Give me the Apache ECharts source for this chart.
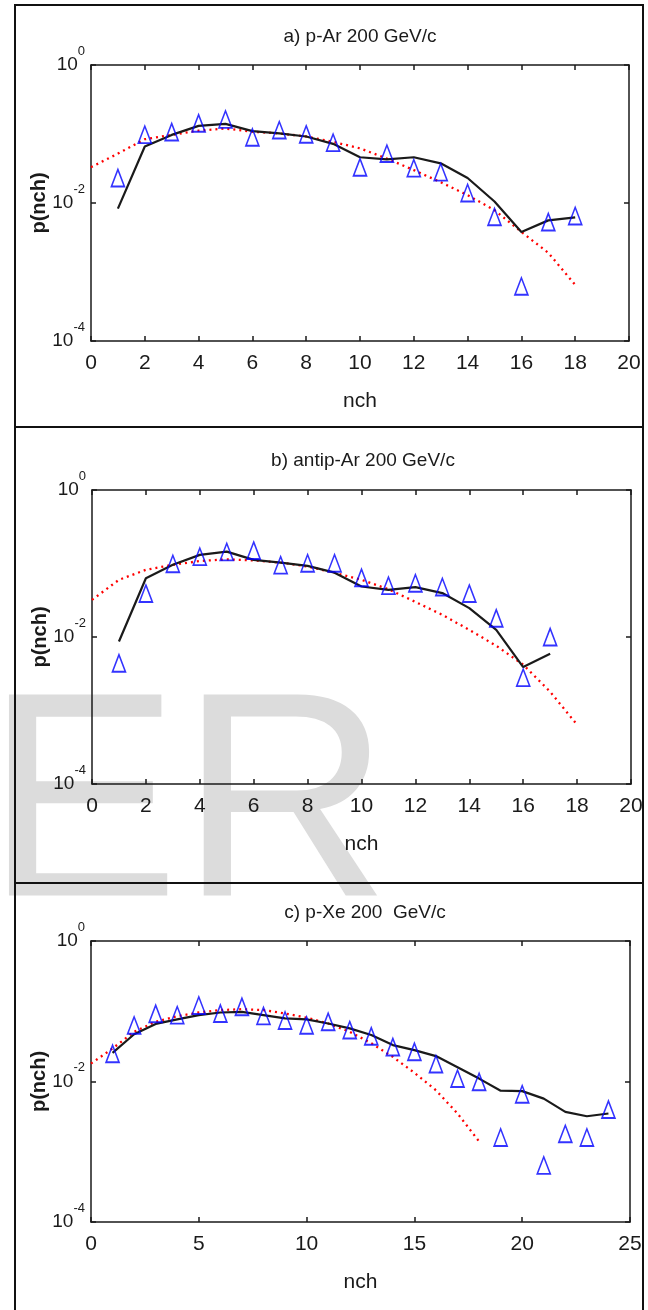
<!DOCTYPE html>
<html>
<head>
<meta charset="utf-8">
<script src="https://cdn.jsdelivr.net/npm/echarts@6/dist/echarts.min.js"></script>
<style>
  html, body { margin: 0; padding: 0; background: #fff; }
  #main { width: 648px; height: 1310px; }
</style>
</head>
<body>
<div id="main"></div>
<script>
// panel a) p-Ar 200 GeV/c
var nchA = [1, 2, 3, 4, 5, 6, 7, 8, 9, 10, 11, 12, 13, 14, 15, 16, 17, 18];
var expA = [0.023, 0.098, 0.107, 0.143, 0.163, 0.0895, 0.114, 0.099, 0.075, 0.033, 0.052, 0.032, 0.028, 0.014, 0.0063, 0.00062, 0.0053, 0.0065];
var fitA = [0.0083, 0.066, 0.097, 0.131, 0.14, 0.11, 0.102, 0.092, 0.072, 0.046, 0.043, 0.046, 0.0376, 0.023, 0.0105, 0.0038, 0.0056, 0.0062];
var nbdXA = [0, 1, 2, 3, 4, 5, 6, 7, 8, 9, 10, 11, 12, 13, 14, 15, 16, 17, 18];
var nbdA = [0.033, 0.052, 0.084, 0.097, 0.112, 0.12, 0.108, 0.102, 0.092, 0.077, 0.062, 0.044, 0.030, 0.020, 0.013, 0.0079, 0.0038, 0.0019, 0.00065];

// panel b) antip-Ar 200 GeV/c
var nchB = [1, 2, 3, 4, 5, 6, 7, 8, 9, 10, 11, 12, 13, 14, 15, 16, 17];
var expB = [0.0044, 0.039, 0.099, 0.124, 0.144, 0.150, 0.095, 0.101, 0.101, 0.064, 0.050, 0.054, 0.048, 0.039, 0.018, 0.0028, 0.010];
var fitB = [0.0087, 0.063, 0.096, 0.131, 0.145, 0.112, 0.103, 0.093, 0.075, 0.0486, 0.0437, 0.0476, 0.0396, 0.0247, 0.0125, 0.0039, 0.0059];
var nbdXB = [0, 1, 2, 3, 4, 5, 6, 7, 8, 9, 10, 11, 12, 13, 14, 15, 16, 17, 18];
var nbdB = [0.032, 0.060, 0.082, 0.096, 0.108, 0.114, 0.110, 0.103, 0.091, 0.075, 0.060, 0.0447, 0.030, 0.020, 0.0125, 0.0076, 0.0042, 0.0018, 0.00064];

// panel c) p-Xe 200 GeV/c
var nchC = [1, 2, 3, 4, 5, 6, 7, 8, 9, 10, 11, 12, 13, 14, 15, 16, 17, 18, 19, 20, 21, 22, 23, 24];
var expC = [0.0248, 0.063, 0.092, 0.088, 0.121, 0.093, 0.116, 0.086, 0.074, 0.063, 0.071, 0.054, 0.044, 0.031, 0.0265, 0.0177, 0.011, 0.0099, 0.0016, 0.0066, 0.00064, 0.0018, 0.0016, 0.0040];
var fitC = [0.0256, 0.047, 0.066, 0.0765, 0.088, 0.096, 0.098, 0.088, 0.079, 0.0765, 0.067, 0.057, 0.046, 0.033, 0.028, 0.023, 0.016, 0.011, 0.0074, 0.0073, 0.0057, 0.0037, 0.0032, 0.0035];
var nbdXC = [0, 1, 2, 3, 4, 5, 6, 7, 8, 9, 10, 11, 12, 13, 14, 15, 16, 17, 18];
var nbdC = [0.018, 0.0295, 0.051, 0.071, 0.085, 0.096, 0.104, 0.107, 0.104, 0.093, 0.081, 0.067, 0.051, 0.035, 0.0224, 0.0133, 0.0075, 0.0035, 0.0014];

var titles = ['a) p-Ar 200 GeV/c', 'b) antip-Ar 200 GeV/c', 'c) p-Xe 200  GeV/c'];
var xMax = [20, 20, 25];
var xStep = [2, 2, 5];

var font = "'Liberation Sans', Arial, sans-serif";
var ink = '#1a1a1a';

function pairs(xs, ys) {
    return xs.map(function (x, i) { return [x, ys[i]]; });
}

var grids = [
    { left: 91, top: 65, width: 538, height: 276 },
    { left: 92, top: 490, width: 539, height: 294 },
    { left: 91, top: 941, width: 539, height: 281 }
];

var xAxes = [], yAxes = [], series = [];
var panels = [
    [nchA, expA, fitA, nbdXA, nbdA],
    [nchB, expB, fitB, nbdXB, nbdB],
    [nchC, expC, fitC, nbdXC, nbdC]
];

grids.forEach(function (g, i) {
    var lineSt = { color: ink, width: 1.5 };
    xAxes.push({
        gridIndex: i, type: 'value', min: 0, max: xMax[i], interval: xStep[i],
        name: 'nch', nameLocation: 'middle', nameGap: 50, nameMoveOverlap: false,
        nameTextStyle: { fontFamily: font, fontSize: 21, color: ink },
        axisLine: { onZero: false, lineStyle: lineSt },
        axisTick: { inside: true, length: 5, lineStyle: lineSt },
        axisLabel: { fontFamily: font, fontSize: 21, color: ink, margin: 12 },
        splitLine: { show: false }
    });
    xAxes.push({
        gridIndex: i, type: 'value', position: 'top', min: 0, max: xMax[i], interval: xStep[i],
        axisLine: { onZero: false, lineStyle: lineSt },
        axisTick: { inside: true, length: 5, lineStyle: lineSt },
        axisLabel: { show: false }, splitLine: { show: false }
    });
    yAxes.push({
        gridIndex: i, type: 'log', logBase: 10, min: 0.0001, max: 1, interval: 2,
        name: 'p(nch)', nameLocation: 'middle', nameGap: 42, nameMoveOverlap: false,
        nameTextStyle: { fontFamily: font, fontWeight: 'bold', fontSize: 20, color: ink },
        axisLine: { onZero: false, lineStyle: lineSt },
        axisTick: { inside: true, length: 5, lineStyle: lineSt },
        axisLabel: {
            margin: 6,
            formatter: function (v) {
                var e = Math.round(Math.log10(v));
                return '{b|10}{s|' + e + '}';
            },
            rich: {
                b: { fontFamily: font, fontSize: 19, color: ink, lineHeight: 22 },
                s: { fontFamily: font, fontSize: 13, color: ink, padding: [0, 0, 28, 0] }
            }
        },
        minorTick: { show: false },
        splitLine: { show: false }
    });
    yAxes.push({
        gridIndex: i, type: 'log', logBase: 10, position: 'right', min: 0.0001, max: 1, interval: 2,
        axisLine: { onZero: false, lineStyle: lineSt },
        axisTick: { inside: true, length: 5, lineStyle: lineSt },
        axisLabel: { show: false }, splitLine: { show: false }
    });

    var p = panels[i];
    series.push({
        type: 'line', xAxisIndex: 2 * i, yAxisIndex: 2 * i,
        data: pairs(p[3], p[4]), symbol: 'none', z: 2,
        lineStyle: { color: '#ff0000', width: 2.3, type: [2, 4] }
    });
    series.push({
        type: 'line', xAxisIndex: 2 * i, yAxisIndex: 2 * i,
        data: pairs(p[0], p[2]), symbol: 'none', z: 3,
        lineStyle: { color: ink, width: 2.2 }
    });
    series.push({
        type: 'scatter', xAxisIndex: 2 * i, yAxisIndex: 2 * i,
        data: pairs(p[0], p[1]), symbol: 'triangle', symbolSize: [13, 17], z: 4,
        itemStyle: { color: 'rgba(0,0,0,0)', borderColor: '#0000ff', borderWidth: 1.7 }
    });
});

var chart = echarts.init(document.getElementById('main'));
chart.setOption({
    backgroundColor: '#fff',
    animation: false,
    title: [
        { text: titles[0], left: 355, top: 22, textAlign: 'center' },
        { text: titles[1], left: 358, top: 446, textAlign: 'center' },
        { text: titles[2], left: 360, top: 898, textAlign: 'center' }
    ].map(function (t) {
        t.textStyle = { fontFamily: font, fontSize: 19, fontWeight: 'normal', color: ink };
        return t;
    }),
    grid: grids,
    xAxis: xAxes,
    yAxis: yAxes,
    series: series,
    graphic: [
        {
            type: 'text', x: -15, y: 815, z: -10, silent: true,
            style: { text: 'ER', font: '292px "Liberation Sans", Arial, sans-serif', fill: '#dcdcdc', verticalAlign: 'middle' }
        },
        { type: 'rect', z: 50, shape: { x: 15, y: 5, width: 628, height: 422 }, style: { fill: 'none', stroke: '#111', lineWidth: 2 } },
        { type: 'rect', z: 50, shape: { x: 15, y: 427, width: 628, height: 456 }, style: { fill: 'none', stroke: '#111', lineWidth: 2 } },
        { type: 'rect', z: 50, shape: { x: 15, y: 883, width: 628, height: 440 }, style: { fill: 'none', stroke: '#111', lineWidth: 2 } }
    ]
});
</script>
</body>
</html>
